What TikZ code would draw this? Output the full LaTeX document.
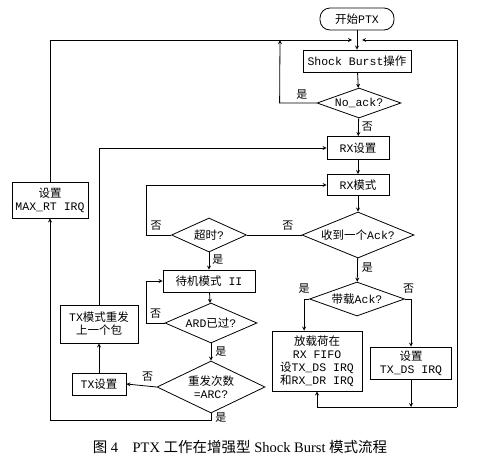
\documentclass[tikz,border=0pt]{standalone}
\usepackage{fontspec}
\setmainfont{Liberation Mono}
\newfontfamily\cjk{Noto Sans CJK SC}
\newfontfamily\capfont{Liberation Serif}
\usetikzlibrary{shapes.geometric}
\tikzset{
  box/.style={draw, rectangle, align=center, inner sep=1pt},
  test/.style={draw, diamond, align=center, inner sep=0pt},
  lbl/.style={font=\cjk\fontsize{11}{13}\selectfont, inner sep=0pt},
}
\begin{document}
\begin{tikzpicture}[x=1pt, y=-1pt, line width=0.8pt, >=stealth,
  every node/.style={font=\fontsize{11.5}{13}\selectfont}]
\useasboundingbox (0,0) rectangle (500,466);

\node[box, rounded corners=10pt, minimum width=74pt, minimum height=22pt] (S) at (357,19) {{\cjk 开始}PTX};
\node[box, minimum width=108pt, minimum height=22pt] (SB) at (357,61) {Shock Burst{\cjk 操作}};
\node[test, aspect=2.8, minimum width=84pt, minimum height=30pt] (NA) at (359,103) {No\_ack?};
\node[box, minimum width=62pt, minimum height=23pt] (RXs) at (358,148) {RX{\cjk 设置}};
\node[box, minimum width=62pt, minimum height=21pt] (RXm) at (358,185) {RX{\cjk 模式}};
\node[test, aspect=2.43, minimum width=112pt, minimum height=46pt] (Ack) at (358,235) {{\cjk 收到一个}Ack?};
\node[test, aspect=2.2, minimum width=75pt, minimum height=34pt] (TO) at (209,235) {{\cjk 超时}?};
\node[box, minimum width=92pt, minimum height=22pt] (SBY) at (209,281) {{\cjk 待机模式} II};
\node[test, aspect=2.3, minimum width=92pt, minimum height=40pt] (ARD) at (211,323) {ARD{\cjk 已过}?};
\node[test, aspect=2.08, minimum width=108pt, minimum height=52pt] (ARC) at (211,387) {{\cjk 重发次数}\\=ARC?};
\node[box, minimum width=54pt, minimum height=22pt] (TXs) at (99,384) {TX{\cjk 设置}};
\node[box, minimum width=78pt, minimum height=38pt] (TXr) at (99,324) {TX{\cjk 模式重发}\\{\cjk 上一个包}};
\node[box, minimum width=76pt, minimum height=36pt] (MRT) at (50,200) {{\cjk 设置}\\MAX\_RT IRQ};
\node[test, aspect=2.8, minimum width=95pt, minimum height=34pt] (AL) at (357,299) {{\cjk 带载}Ack?};
\node[box, minimum width=90pt, minimum height=60pt] (FF) at (317,361) {{\cjk 放载荷在}\\RX FIFO\\{\cjk 设}TX\_DS IRQ\\{\cjk 和}RX\_DR IRQ};
\node[box, minimum width=81pt, minimum height=32pt] (DS) at (411,363) {{\cjk 设置}\\TX\_DS IRQ};

\coordinate (mL) at (352,40);
\coordinate (mR) at (362,40);
\coordinate (bR) at (457,407);

\draw[->] (S) -- (SB);
\draw[->] (SB) -- (NA);
\draw[->] (NA) -- node[lbl, right=3pt, pos=0.45] {否} (RXs);
\draw[->] (NA.west) -- node[lbl, above=3pt, pos=0.4] {是} ++(-37,0) -- (280,40);
\draw[->] (MRT.north) |- (mL);
\draw[->] (bR) |- (mR);
\draw (FF.south |- bR) -- (bR);
\draw[->] (FF.south |- bR) -- (FF.south);
\draw[->] (DS.south) -- (DS.south |- bR);
\draw[->] (TXr.north) |- (RXs.west);
\draw[->] (RXs) -- (RXm);
\draw[->] (RXm) -- (Ack);
\draw (Ack.west) -- node[lbl, above=4pt, pos=0.25] {否} (TO.east);
\draw[->] (TO.west) -- node[lbl, above=4pt, pos=0.6] {否} ++(-25,0) |- (RXm.west);
\draw[->] (TO) -- node[lbl, right=3pt, pos=0.4] {是} (SBY);
\draw[->] (SBY) -- (ARD);
\draw[->] (ARD.west) -- node[lbl, above=4pt, pos=0.5] {否} ++(-18,0) |- (SBY.west);
\draw[->] (ARD) -- node[lbl, right=4pt, pos=0.45] {是} (ARC);
\draw[->] (ARC.west) -- node[lbl, above=4pt, pos=0.3] {否} (TXs.east);
\draw[->] (TXs) -- (TXr);
\draw[->] (ARC.south) -- node[lbl, right=4pt, pos=0.6] {是} ++(0,7) -| (MRT.south);
\draw[->] (Ack) -- node[lbl, right=4pt, pos=0.4] {是} (AL);
\draw[->] (AL.west) -- ++(-5,0) coordinate (aL) node[lbl, above=5pt] {是} -- (aL |- FF.north);
\draw[->] (AL.east) -| node[lbl, above=5pt, pos=0.3] {否} (DS.north);

\node[font=\fontsize{14.5}{16}\selectfont\capfont] (cap) at (240,447)
  {{\cjk 图} 4\quad PTX {\cjk 工作在增强型} Shock Burst {\cjk 模式流程}};
\end{tikzpicture}
\end{document}
